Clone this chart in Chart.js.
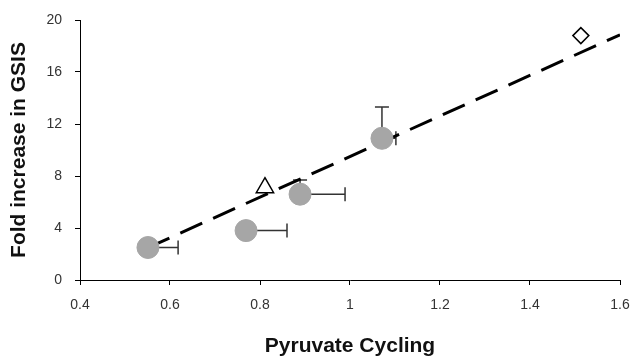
<!DOCTYPE html>
<html>
<head>
<meta charset="utf-8">
<script src="https://cdn.jsdelivr.net/npm/chart.js@4.4.1/dist/chart.umd.min.js"></script>
<style>
  html, body { margin: 0; padding: 0; background: #fff; }
  #wrap { width: 632px; height: 361px; }
</style>
</head>
<body>
<div id="wrap"><canvas id="gsis" width="632" height="361"></canvas></div>
<script>
// measured points (gray circles) with one-sided error bars
var cyclingX = [0.551, 0.769, 0.889, 1.071];
var gsisY = [2.5, 3.8, 6.6, 10.9];
var cyclingErr = [0.067, 0.091, 0.1, 0.031];
var gsisErr = [0, 0, 1.1, 2.4];

// single open markers
var trianglePt = [0.811, 7.1];
var diamondPt = [1.513, 18.8];

// dashed trend line end points
var trendX = [0.55, 1.6];
var trendY = [2.47, 18.86];

var xTicks = [0.4, 0.6, 0.8, 1, 1.2, 1.4, 1.6];
var yTicks = [0, 4, 8, 12, 16, 20];

var errorBars = {
    id: 'errorBars',
    beforeDatasetsDraw: function (chart) {
        var ctx = chart.ctx;
        var xs = chart.scales.x, ys = chart.scales.y;
        ctx.save();
        ctx.strokeStyle = '#333';
        ctx.lineWidth = 1.5;
        for (var i = 0; i < cyclingX.length; i++) {
            var px = xs.getPixelForValue(cyclingX[i]);
            var py = ys.getPixelForValue(gsisY[i]);
            if (cyclingErr[i] > 0) {
                var ex = xs.getPixelForValue(cyclingX[i] + cyclingErr[i]);
                ctx.beginPath();
                ctx.moveTo(px, py);
                ctx.lineTo(ex, py);
                ctx.moveTo(ex, py - 7);
                ctx.lineTo(ex, py + 7);
                ctx.stroke();
            }
            if (gsisErr[i] > 0) {
                var ey = ys.getPixelForValue(gsisY[i] + gsisErr[i]);
                ctx.beginPath();
                ctx.moveTo(px, py);
                ctx.lineTo(px, ey);
                ctx.moveTo(px - 7, ey);
                ctx.lineTo(px + 7, ey);
                ctx.stroke();
            }
        }
        ctx.restore();
    }
};

var ctx = document.getElementById('gsis').getContext('2d');
new Chart(ctx, {
    type: 'scatter',
    data: {
        datasets: [
            {
                label: 'trend',
                type: 'line',
                data: trendX.map(function (x, i) { return { x: x, y: trendY[i] }; }),
                borderColor: '#000',
                borderWidth: 3,
                borderDash: [24, 12],
                pointRadius: 0,
                fill: false,
                order: 3
            },
            {
                label: 'islets',
                data: cyclingX.map(function (x, i) { return { x: x, y: gsisY[i] }; }),
                backgroundColor: '#a6a6a6',
                borderColor: '#a6a6a6',
                pointRadius: 11,
                order: 1
            },
            {
                label: 'triangle',
                data: [{ x: trianglePt[0], y: trianglePt[1] }],
                pointStyle: 'triangle',
                backgroundColor: '#fff',
                borderColor: '#000',
                borderWidth: 1.5,
                pointRadius: 10,
                order: 1
            },
            {
                label: 'diamond',
                data: [{ x: diamondPt[0], y: diamondPt[1] }],
                pointStyle: 'rectRot',
                backgroundColor: '#fff',
                borderColor: '#000',
                borderWidth: 1.5,
                pointRadius: 8,
                order: 1
            }
        ]
    },
    options: {
        responsive: false,
        animation: false,
        layout: { padding: { top: 20, right: 12, left: 0, bottom: 0 } },
        plugins: {
            legend: { display: false },
            tooltip: { enabled: false }
        },
        scales: {
            x: {
                type: 'linear',
                min: 0.4,
                max: 1.6,
                afterBuildTicks: function (s) { s.ticks = xTicks.map(function (v) { return { value: v }; }); },
                afterFit: function (s) { s.height = 81; s.paddingLeft = 0; s.paddingRight = 0; },
                grid: { drawOnChartArea: false, tickLength: 5, color: '#000' },
                border: { color: '#000', width: 1 },
                ticks: {
                    color: '#333',
                    padding: 12,
                    font: { family: 'Liberation Sans', size: 14 },
                    callback: function (v) { return String(v); }
                },
                title: {
                    display: true,
                    text: 'Pyruvate Cycling',
                    color: '#111',
                    font: { family: 'Liberation Sans', size: 21, weight: 'bold' },
                    padding: { top: 4, bottom: 2 }
                }
            },
            y: {
                type: 'linear',
                min: 0,
                max: 20,
                afterBuildTicks: function (s) { s.ticks = yTicks.map(function (v) { return { value: v }; }); },
                afterFit: function (s) { s.width = 80; s.paddingTop = 0; s.paddingBottom = 0; },
                grid: { drawOnChartArea: false, tickLength: 5, color: '#000' },
                border: { color: '#000', width: 1 },
                ticks: {
                    color: '#333',
                    padding: 13,
                    font: { family: 'Liberation Sans', size: 14 }
                },
                title: {
                    display: true,
                    text: 'Fold increase in GSIS',
                    color: '#111',
                    font: { family: 'Liberation Sans', size: 21, weight: 'bold' },
                    padding: { top: 7, bottom: 4 }
                }
            }
        }
    },
    plugins: [errorBars]
});
</script>
</body>
</html>
